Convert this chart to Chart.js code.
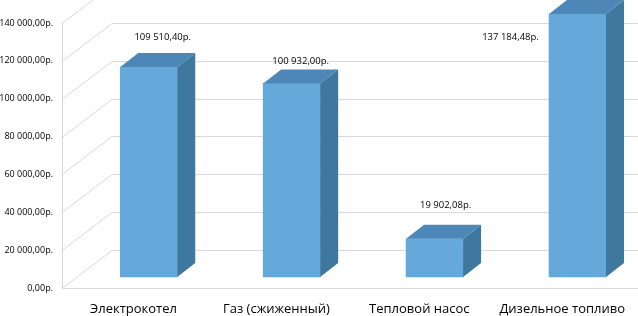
<!DOCTYPE html>
<html>
<head>
<meta charset="utf-8">
<script src="https://cdn.jsdelivr.net/npm/chart.js@4.4.1/dist/chart.umd.min.js"></script>
<style>
  html, body { margin: 0; padding: 0; background: #fff; }
  #chart-costs { display: block; }
</style>
</head>
<body>
<canvas id="chart-costs" width="638" height="316"></canvas>
<script>
var categories = ['Электрокотел', 'Газ (сжиженный)', 'Тепловой насос', 'Дизельное топливо'];
var costs = [109510.40, 100932.00, 19902.08, 137184.48];
var tickValues = [0, 20000, 40000, 60000, 80000, 100000, 120000, 140000];

// where excel left the value labels, relative to top of each bar's front face
var labelShift = [[14, -30], [9, -22], [11, -34], [-67, 23]];

var depthX = 18, depthY = 14;   // bar depth
var wallX = 50, wallY = 38;     // back wall offset
var frontColor = '#65a9db', topColor = '#4c87b7', sideColor = '#3f789f';
var gridColor = '#d9d9d9';
var font = '"Open Sans", "Noto Sans", sans-serif';

function rub(v) {
    var parts = v.toFixed(2).split('.');
    return parts[0].replace(/\B(?=(\d{3})+(?!\d))/g, ' ') + ',' + parts[1] + 'р.';
}

var wallPlugin = {
    id: 'wall3d',
    beforeDatasetsDraw: function (chart) {
        var ctx = chart.ctx, area = chart.chartArea, y = chart.scales.y;
        ctx.save();
        ctx.strokeStyle = gridColor;
        ctx.lineWidth = 1;
        ctx.beginPath();
        tickValues.forEach(function (v) {
            var py = Math.round(y.getPixelForValue(v)) + 0.5;
            ctx.moveTo(area.left, py);
            ctx.lineTo(area.left + wallX, py - wallY);
            ctx.lineTo(chart.width, py - wallY);
        });
        var bottom = Math.round(area.bottom) + 0.5;
        ctx.moveTo(area.left, bottom);
        ctx.lineTo(chart.width, bottom);
        ctx.moveTo(area.left + 0.5, bottom);
        ctx.lineTo(area.left + 0.5, Math.round(y.getPixelForValue(140000)));
        ctx.stroke();
        ctx.restore();
    }
};

var barPlugin = {
    id: 'bars3d',
    afterDatasetsDraw: function (chart) {
        var ctx = chart.ctx;
        var meta = chart.getDatasetMeta(0);
        ctx.save();
        meta.data.forEach(function (bar, i) {
            var p = bar.getProps(['x', 'y', 'base', 'width'], true);
            var left = p.x - p.width / 2, right = p.x + p.width / 2;

            ctx.fillStyle = sideColor;
            ctx.beginPath();
            ctx.moveTo(right, p.y);
            ctx.lineTo(right + depthX, p.y - depthY);
            ctx.lineTo(right + depthX, p.base - depthY);
            ctx.lineTo(right, p.base);
            ctx.closePath();
            ctx.fill();

            ctx.fillStyle = topColor;
            ctx.beginPath();
            ctx.moveTo(left, p.y);
            ctx.lineTo(left + depthX, p.y - depthY);
            ctx.lineTo(right + depthX, p.y - depthY);
            ctx.lineTo(right, p.y);
            ctx.closePath();
            ctx.fill();

            ctx.fillStyle = '#000';
            ctx.font = '9.5px ' + font;
            ctx.textAlign = 'center';
            ctx.textBaseline = 'middle';
            ctx.fillText(rub(costs[i]), p.x + labelShift[i][0], p.y + labelShift[i][1]);
        });
        ctx.restore();
    }
};

var ctx = document.getElementById('chart-costs');
new Chart(ctx, {
    type: 'bar',
    data: {
        labels: categories,
        datasets: [{
            data: costs.map(function (v, i) { return { x: i, y: v }; }),
            xAxisID: 'xb',
            yAxisID: 'yb',
            backgroundColor: frontColor,
            barThickness: 57,
            clip: false
        }]
    },
    options: {
        responsive: false,
        animation: false,
        layout: { padding: { top: 23, right: 0, bottom: 0, left: 0 } },
        plugins: { legend: { display: false }, tooltip: { enabled: false } },
        scales: {
            x: {
                type: 'category',
                offset: true,
                grid: { display: false, drawTicks: false },
                border: { display: false },
                ticks: { color: '#000', padding: 13, font: { family: font, size: 13 }, maxRotation: 0 },
                afterFit: function (scale) { scale.height = 28; }
            },
            y: {
                type: 'linear',
                position: 'left',
                min: 0,
                max: 140000,
                afterBuildTicks: function (scale) {
                    scale.ticks = tickValues.map(function (v) { return { value: v }; });
                },
                grid: { display: false, drawTicks: false },
                border: { display: false },
                ticks: { color: '#000', padding: 9, font: { family: font, size: 9 }, callback: rub },
                afterFit: function (scale) { scale.width = 62; }
            },
            xb: { type: 'linear', display: false, offset: false, min: -0.607, max: 3.393 },
            yb: { type: 'linear', display: false, min: -5736, max: 132458 }
        }
    },
    plugins: [wallPlugin, barPlugin]
});
</script>
</body>
</html>
